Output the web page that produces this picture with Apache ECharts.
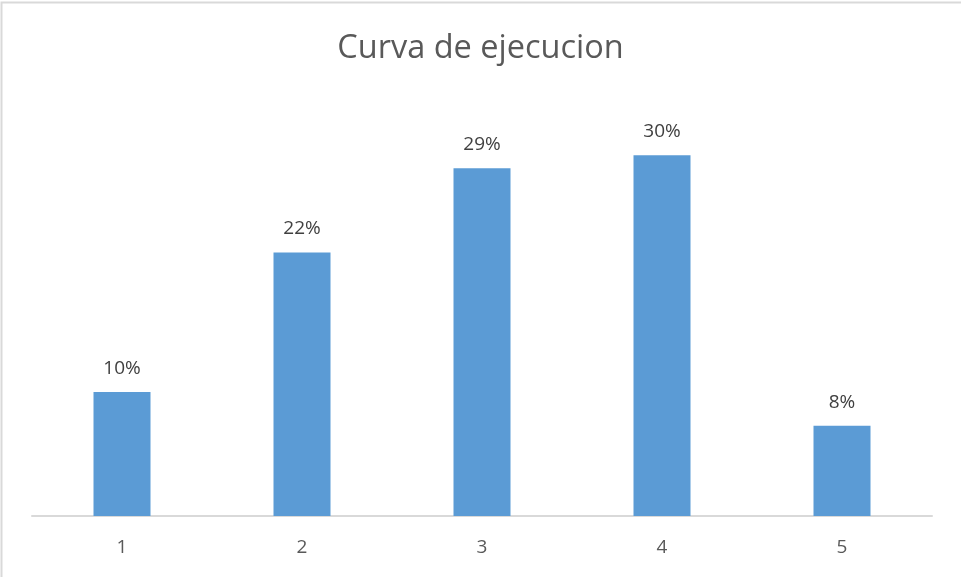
<!DOCTYPE html>
<html>
<head>
<meta charset="utf-8">
<script src="https://cdn.jsdelivr.net/npm/echarts@6/dist/echarts.min.js"></script>
<style>
html,body{margin:0;padding:0;background:#fff;}
#chart{width:961px;height:577px;}
</style>
</head>
<body>
<div id="chart"></div>
<script>
var titleText = 'Curva de ejecucion';
var categories = ['1', '2', '3', '4', '5'];
var values = [0.103, 0.219, 0.289, 0.300, 0.075];

var chart = echarts.init(document.getElementById('chart'), null, {renderer: 'canvas'});
var FONT = '"Open Sans", sans-serif';
chart.setOption({
  animation: false,
  backgroundColor: '#ffffff',
  title: {
    text: titleText,
    left: 'center',
    top: 27,
    textStyle: {fontFamily: FONT, fontSize: 32.5, fontWeight: 'normal', color: '#595959'}
  },
  graphic: [{
    type: 'rect',
    shape: {x: 1.5, y: 2.5, width: 2000, height: 2000},
    style: {fill: 'none', stroke: '#d9d9d9', lineWidth: 2},
    silent: true
  }],
  grid: {left: 32, right: 29, top: 95, bottom: 61, containLabel: false},
  xAxis: {
    type: 'category',
    data: categories,
    axisLine: {show: true, lineStyle: {color: '#d9d9d9', width: 2}},
    axisTick: {show: false},
    axisLabel: {fontFamily: FONT, fontSize: 19, color: '#595959', margin: 22}
  },
  yAxis: {
    type: 'value',
    min: 0,
    max: 0.35,
    show: false,
    splitLine: {show: false}
  },
  series: [{
    type: 'bar',
    data: values,
    barWidth: 57,
    itemStyle: {color: '#5b9bd5'},
    label: {
      show: true,
      position: 'top',
      distance: 14,
      fontFamily: FONT,
      fontSize: 19,
      color: '#404040',
      formatter: function (p) { return Math.round(Number((p.value * 100).toFixed(1))) + '%'; }
    }
  }]
});
</script>
</body>
</html>
